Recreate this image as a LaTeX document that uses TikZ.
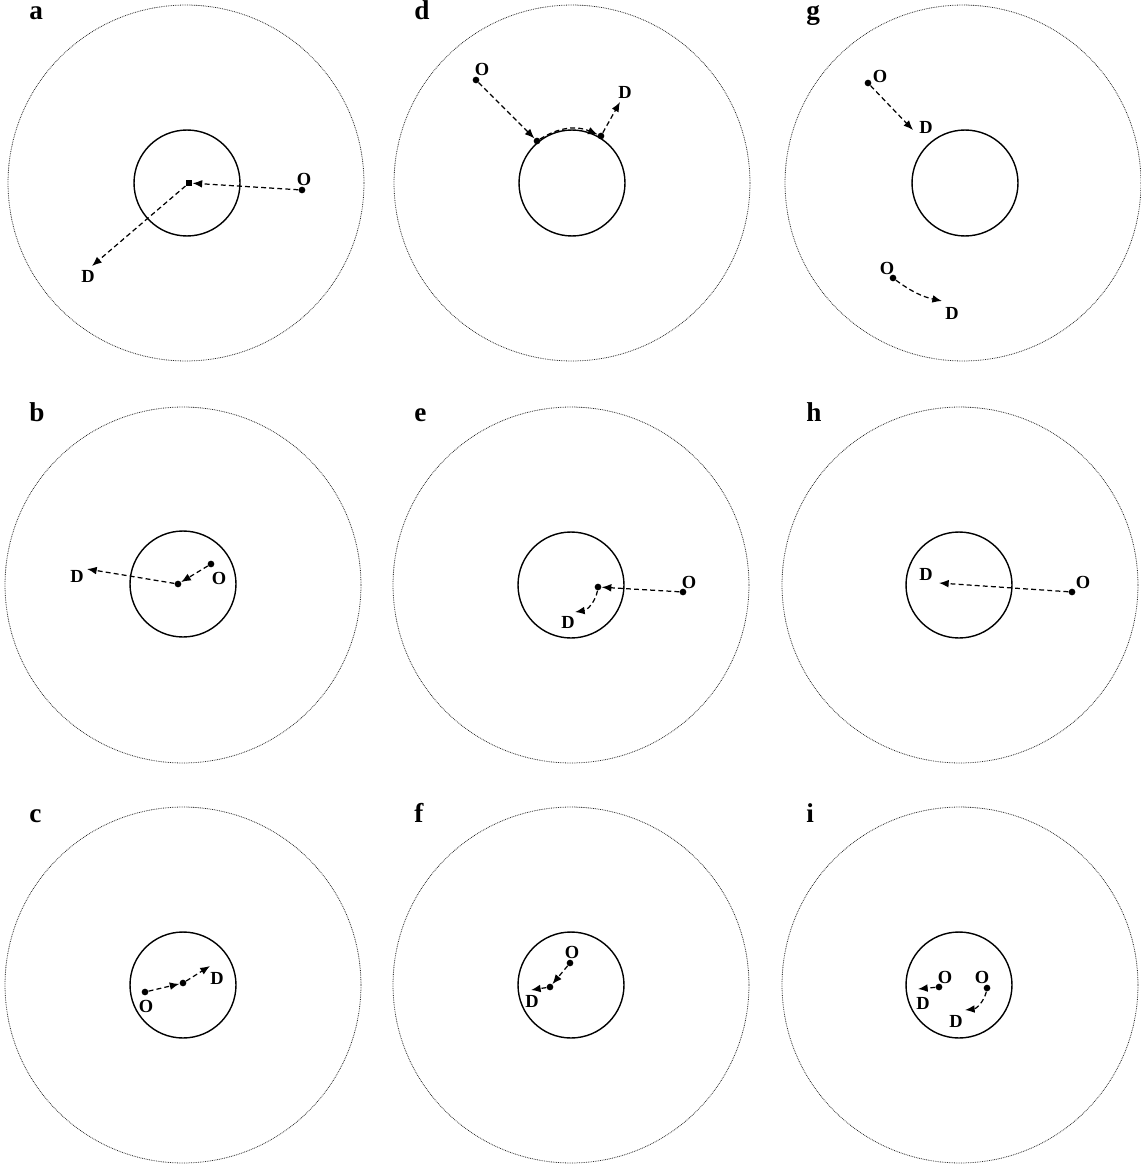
\documentclass[tikz,border=0pt]{standalone}
\usepackage{fontspec}
\setmainfont{Liberation Serif}
\usetikzlibrary{arrows.meta}

\begin{document}
\begin{tikzpicture}[x=0.02cm,y=-0.02cm,
  ring/.style={line width=0.45pt,dash pattern=on 0.45pt off 0.55pt,black!85},
  core/.style={line width=0.8pt},
  trip/.style={line width=0.7pt,dash pattern=on 2.8pt off 1.8pt,-{Latex[length=5.5pt,width=4.4pt]}},
  stopdot/.style={circle,fill,inner sep=0pt,minimum size=3.8pt},
  stopsq/.style={fill,inner sep=0pt,minimum size=3.6pt},
  tag/.style={font=\fontsize{10.5}{11}\selectfont\bfseries,inner sep=0pt},
  panel/.style={font=\fontsize{15.5}{17}\selectfont\bfseries,inner sep=0pt,anchor=base west}]
  \useasboundingbox (0,0) rectangle (1141,1166);

  % a
  \node[panel] (la) at (29,20) {a};
  \draw[ring] (186,183) circle[radius=3.56cm];
  \draw[core] (187,183) circle[radius=1.06cm];
  \node[stopdot] (aO) at (302,190) {};
  \node[tag] (aOl) at (304,179) {O};
  \node[stopsq] (aS) at (189,183) {};
  \coordinate (aD) at (92,266);
  \node[tag] (aDl) at (88,276) {D};
  \draw[trip] (aO) -- (aS);
  \draw[trip] (aS) -- (aD);

  % b
  \node[panel] (lb) at (29,421) {b};
  \draw[ring] (183,585) circle[radius=3.56cm];
  \draw[core] (183,584) circle[radius=1.06cm];
  \node[stopdot] (bO) at (211,564) {};
  \node[tag] (bOl) at (219,578) {O};
  \node[stopdot] (bS) at (178,584) {};
  \coordinate (bD) at (87,569);
  \node[tag] (bDl) at (77,576) {D};
  \draw[trip] (bO) -- (bS);
  \draw[trip] (bS) -- (bD);

  % c
  \node[panel] (lc) at (29,822) {c};
  \draw[ring] (183,985) circle[radius=3.56cm];
  \draw[core] (183,985) circle[radius=1.06cm];
  \node[stopdot] (cO) at (145,992) {};
  \node[tag] (cOl) at (146,1006) {O};
  \node[stopdot] (cS) at (183,983) {};
  \coordinate (cD) at (210,966);
  \node[tag] (cDl) at (217,978) {D};
  \draw[trip] (cO) -- (cS);
  \draw[trip] (cS) -- (cD);

  % d
  \node[panel] (ld) at (414,20) {d};
  \draw[ring] (572,183) circle[radius=3.56cm];
  \draw[core] (572,183) circle[radius=1.06cm];
  \node[stopdot] (dO) at (476,80) {};
  \node[tag] (dOl) at (482,69) {O};
  \node[stopdot] (dS) at (537,141) {};
  \node[stopdot] (dT) at (601,136) {};
  \coordinate (dD) at (620,102);
  \node[tag] (dDl) at (625,92) {D};
  \draw[trip] (dO) -- (dS);
  \draw[trip] (dS) to[bend left=28] (dT);
  \draw[trip] (dT) -- (dD);

  % e
  \node[panel] (le) at (414,421) {e};
  \draw[ring] (571,585) circle[radius=3.56cm];
  \draw[core] (571,585) circle[radius=1.06cm];
  \node[stopdot] (eO) at (683,592) {};
  \node[tag] (eOl) at (689,582) {O};
  \node[stopdot] (eS) at (598,587) {};
  \coordinate (eD) at (575,612);
  \node[tag] (eDl) at (568,622) {D};
  \draw[trip] (eO) -- (eS);
  \draw[trip] (eS) to[bend left=35] (eD);

  % f
  \node[panel] (lf) at (414,822) {f};
  \draw[ring] (571,985) circle[radius=3.56cm];
  \draw[core] (571,985) circle[radius=1.06cm];
  \node[stopdot] (fO) at (570,963) {};
  \node[tag] (fOl) at (572,952) {O};
  \node[stopdot] (fS) at (550,987) {};
  \coordinate (fD) at (531,990);
  \node[tag] (fDl) at (532,1001) {D};
  \draw[trip] (fO) -- (fS);
  \draw[trip] (fS) -- (fD);

  % g
  \node[panel] (lg) at (806,20) {g};
  \draw[ring] (963,183) circle[radius=3.56cm];
  \draw[core] (965,183) circle[radius=1.06cm];
  \node[stopdot] (gO) at (868,83) {};
  \node[tag] (gOl) at (880,76) {O};
  \coordinate (gD) at (913,130);
  \node[tag] (gDl) at (926,127) {D};
  \draw[trip] (gO) -- (gD);
  \node[stopdot] (gP) at (893,278) {};
  \node[tag] (gPl) at (887,268) {O};
  \coordinate (gE) at (942,301);
  \node[tag] (gEl) at (952,313) {D};
  \draw[trip] (gP) to[bend right=12] (gE);

  % h
  \node[panel] (lh) at (806,421) {h};
  \draw[ring] (960,585) circle[radius=3.56cm];
  \draw[core] (959,585) circle[radius=1.06cm];
  \node[stopdot] (hO) at (1072,592) {};
  \node[tag] (hOl) at (1083,582) {O};
  \coordinate (hD) at (939,583);
  \node[tag] (hDl) at (926,574) {D};
  \draw[trip] (hO) -- (hD);

  % i
  \node[panel] (li) at (806,822) {i};
  \draw[ring] (960,985) circle[radius=3.56cm];
  \draw[core] (959,985) circle[radius=1.06cm];
  \node[stopdot] (iO) at (939,987) {};
  \node[tag] (iOl) at (945,977) {O};
  \coordinate (iD) at (918,989);
  \node[tag] (iDl) at (923,1003) {D};
  \draw[trip] (iO) -- (iD);
  \node[stopdot] (iP) at (987,988) {};
  \node[tag] (iPl) at (982,977) {O};
  \coordinate (iE) at (965,1010);
  \node[tag] (iEl) at (956,1021) {D};
  \draw[trip] (iP) to[bend left=35] (iE);
\end{tikzpicture}
\end{document}
